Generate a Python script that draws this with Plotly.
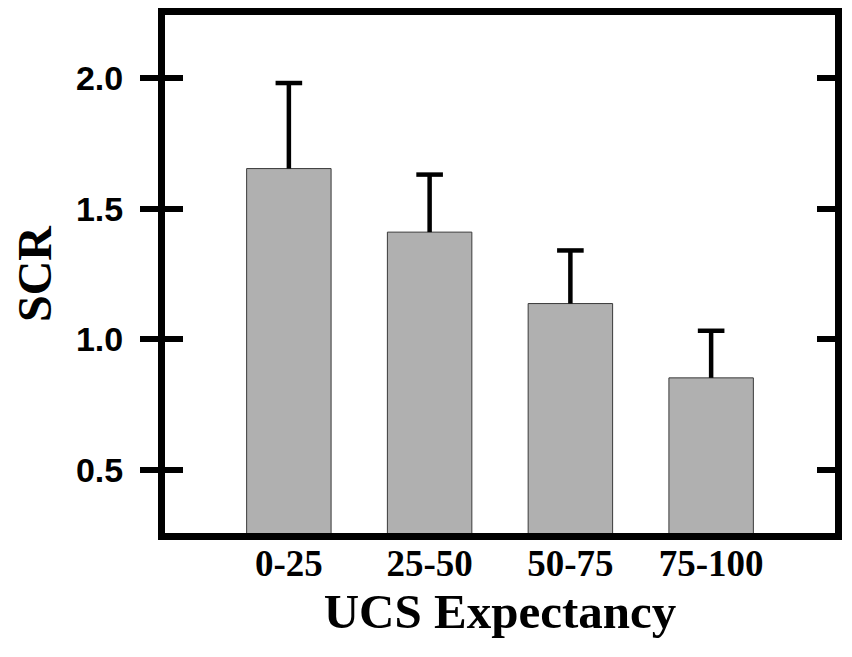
import plotly.graph_objects as go

# UCS expectancy bins and SCR means with upper error bar ends
categories = ["0-25", "25-50", "50-75", "75-100"]
scr_mean = [1.653, 1.410, 1.137, 0.853]
scr_upper = [1.980, 1.630, 1.340, 1.033]
y_ticks = [0.5, 1.0, 1.5, 2.0]

xpos = list(range(len(categories)))

fig = go.Figure()
fig.add_trace(go.Bar(
    x=xpos, y=scr_mean, width=0.6,
    marker=dict(color="#b0b0b0", line=dict(color="#3a3a3a", width=1)),
    showlegend=False,
))

# upper-only error bars: stems and caps
stem_x, stem_y = [], []
for x, m, u in zip(xpos, scr_mean, scr_upper):
    stem_x += [x, x, None]
    stem_y += [m, u, None]
fig.add_trace(go.Scatter(x=stem_x, y=stem_y, mode="lines",
                         line=dict(color="black", width=4.5),
                         showlegend=False, hoverinfo="skip"))
fig.add_trace(go.Scatter(x=xpos, y=scr_upper, mode="markers",
                         marker=dict(symbol="line-ew", size=19,
                                     line=dict(color="black", width=4.5)),
                         showlegend=False, hoverinfo="skip"))

# invisible traces to carry the extra tick axes
fig.add_trace(go.Scatter(x=xpos, y=scr_mean, yaxis="y2", mode="none",
                         showlegend=False, hoverinfo="skip"))
fig.add_trace(go.Scatter(x=xpos, y=scr_mean, yaxis="y3", mode="none",
                         showlegend=False, hoverinfo="skip"))

yr = [0.26, 2.24]
serif = "Liberation Serif, Times New Roman"
tickfont = dict(family="Liberation Sans, Arial", size=34, color="black", weight="bold")

fig.update_layout(
    width=852, height=657,
    margin=dict(l=157, r=25, t=7, b=132),
    plot_bgcolor="white", paper_bgcolor="white",
    xaxis=dict(
        range=[-0.88, 3.88], tickvals=xpos, ticktext=categories,
        showline=True, linecolor="black", linewidth=7, mirror=True,
        ticks="", ticklen=0, ticklabelstandoff=-8,
        showgrid=False, zeroline=False, automargin=False,
        tickfont=dict(family=serif, size=37, color="black", weight="bold"),
        title=dict(text="UCS Expectancy", standoff=4,
                   font=dict(family=serif, size=49, color="black", weight="bold")),
    ),
    yaxis=dict(
        range=yr, tickvals=y_ticks, tickformat=".1f",
        showline=True, linecolor="black", linewidth=7, mirror=True,
        ticks="outside", ticklen=18, tickwidth=6, tickcolor="black",
        ticklabelstandoff=10,
        showgrid=False, zeroline=False, tickfont=tickfont, automargin=True,
        title=dict(text="SCR", standoff=28,
                   font=dict(family=serif, size=48, color="black", weight="bold")),
    ),
    yaxis2=dict(
        range=yr, tickvals=y_ticks, overlaying="y", side="left",
        ticks="inside", ticklen=18, tickwidth=6, tickcolor="black",
        showticklabels=False, showgrid=False, zeroline=False, showline=False,
    ),
    yaxis3=dict(
        range=yr, tickvals=y_ticks, overlaying="y", side="right",
        ticks="inside", ticklen=18, tickwidth=6, tickcolor="black",
        showticklabels=False, showgrid=False, zeroline=False, showline=False,
    ),
)

fig.write_html("out.html")
